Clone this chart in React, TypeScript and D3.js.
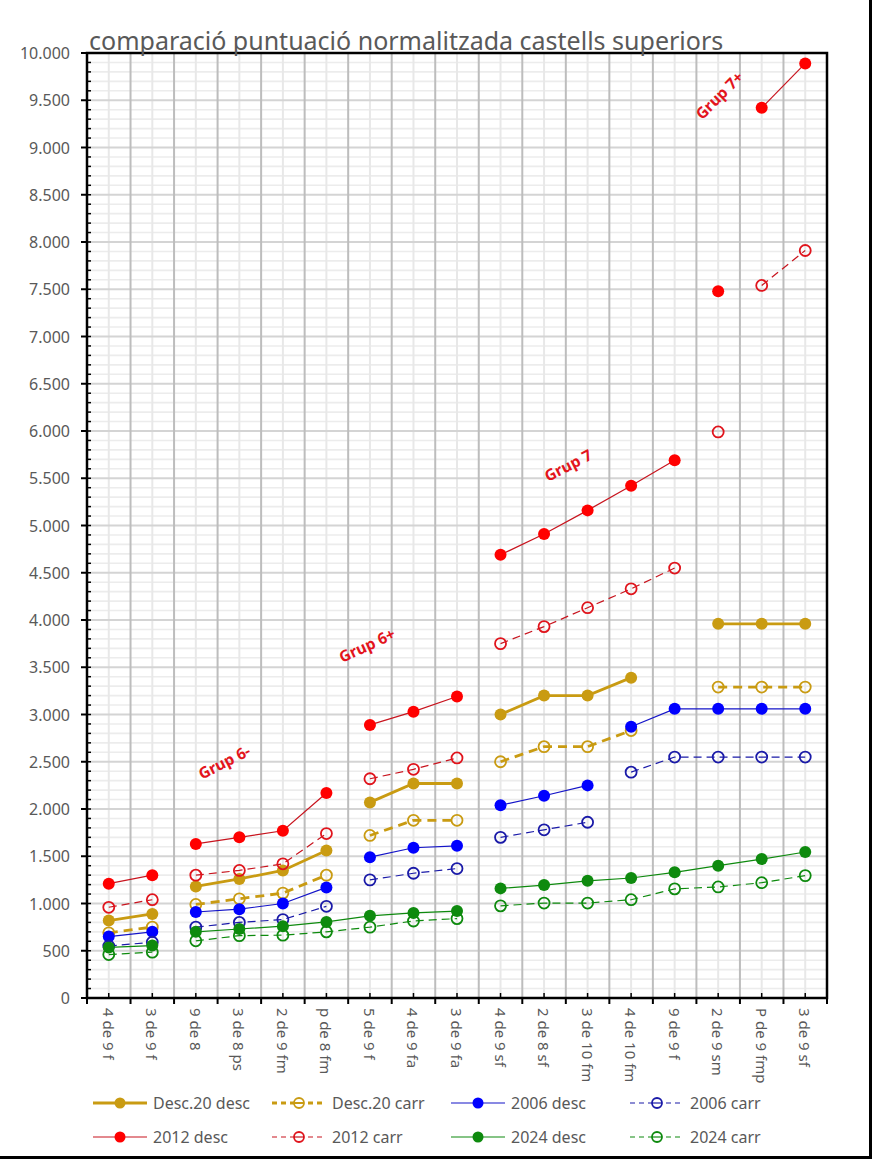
import { useEffect, useRef } from 'react';
import * as d3 from 'd3';

const WIDTH = 872;
const HEIGHT = 1159;
const PLOT = { left: 87, right: 827, top: 53, bottom: 998 };

const TITLE = 'comparació puntuació normalitzada castells superiors';

const CATEGORIES = [
  '4 de 9 f', '3 de 9 f', '9 de 8', '3 de 8 ps', '2 de 9 fm', 'p de 8 fm',
  '5 de 9 f', '4 de 9 fa', '3 de 9 fa', '4 de 9 sf', '2 de 8 sf', '3 de 10 fm',
  '4 de 10 fm', '9 de 9 f', '2 de 9 sm', 'P de 9 fmp', '3 de 9 sf',
];

const Y_TICKS = d3.range(0, 10001, 500);

const DESC20_DESC = [820, 890, 1180, 1260, 1350, 1560, 2070, 2270, 2270, 3000, 3200, 3200, 3390, null, 3960, 3960, 3960];
const DESC20_CARR = [690, 750, 990, 1050, 1110, 1300, 1720, 1880, 1880, 2500, 2660, 2660, 2830, null, 3290, 3290, 3290];
const Y2006_DESC = [650, 700, 910, 940, 1000, 1170, 1490, 1590, 1610, 2040, 2140, 2250, 2870, 3060, 3060, 3060, 3060];
const Y2006_CARR = [550, 590, 750, 800, 830, 970, 1250, 1320, 1370, 1700, 1780, 1860, 2390, 2550, 2550, 2550, 2550];
const Y2012_DESC = [1210, 1300, 1630, 1700, 1770, 2170, 2890, 3030, 3190, 4690, 4910, 5160, 5420, 5690, 7480, 9420, 9890];
const Y2012_CARR = [960, 1040, 1300, 1350, 1420, 1740, 2320, 2420, 2540, 3750, 3930, 4130, 4330, 4550, 5990, 7540, 7910];
const Y2024_DESC = [535, 555, 700, 730, 760, 805, 870, 900, 920, 1160, 1195, 1240, 1270, 1330, 1400, 1470, 1545];
const Y2024_CARR = [460, 485, 605, 660, 665, 700, 750, 815, 840, 975, 1005, 1005, 1040, 1155, 1175, 1220, 1295];

// category indexes where a series line starts again (not joined to the previous point)
const BREAKS_DESC20 = [2, 6, 9];
const BREAKS_2006 = [2, 6, 9, 12];
const BREAKS_2012 = [2, 6, 9, 14, 15];
const BREAKS_2024 = [2, 9];

const GROUP_LABELS = [
  { text: 'Grup 6-', at: 2.65, value: 2500, angle: -27 },
  { text: 'Grup 6+', at: 5.93, value: 3735, angle: -25 },
  { text: 'Grup 7', at: 10.55, value: 5640, angle: -27 },
  { text: 'Grup 7+', at: 14.02, value: 9555, angle: -45 },
];

const GOLD = '#c99b12';
const BLUE = '#0000ff';
const BLUE_DARK = '#1a1aa8';
const RED = '#ff0000';
const RED_DARK = '#c8141e';
const GREEN = '#0e8a0e';
const TEXT = '#595959';
const FONT = '"Noto Sans", "Open Sans", sans-serif';

interface Series {
  name: string;
  values: (number | null)[];
  breaks: number[];
  lineColor: string;
  markerColor: string;
  filled: boolean;
  width: number;
  dash: string | null;
}

const SERIES: Series[] = [
  { name: 'Desc.20 desc', values: DESC20_DESC, breaks: BREAKS_DESC20, lineColor: GOLD, markerColor: GOLD, filled: true, width: 2.8, dash: null },
  { name: 'Desc.20 carr', values: DESC20_CARR, breaks: BREAKS_DESC20, lineColor: GOLD, markerColor: GOLD, filled: false, width: 2.8, dash: '9,6' },
  { name: '2006 desc', values: Y2006_DESC, breaks: BREAKS_2006, lineColor: '#1414c8', markerColor: BLUE, filled: true, width: 1.2, dash: null },
  { name: '2006 carr', values: Y2006_CARR, breaks: BREAKS_2006, lineColor: BLUE_DARK, markerColor: BLUE_DARK, filled: false, width: 1.2, dash: '8,5' },
  { name: '2012 desc', values: Y2012_DESC, breaks: BREAKS_2012, lineColor: RED_DARK, markerColor: RED, filled: true, width: 1.2, dash: null },
  { name: '2012 carr', values: Y2012_CARR, breaks: BREAKS_2012, lineColor: RED_DARK, markerColor: '#e0141c', filled: false, width: 1.2, dash: '8,5' },
  { name: '2024 desc', values: Y2024_DESC, breaks: BREAKS_2024, lineColor: GREEN, markerColor: GREEN, filled: true, width: 1.2, dash: null },
  { name: '2024 carr', values: Y2024_CARR, breaks: BREAKS_2024, lineColor: GREEN, markerColor: GREEN, filled: false, width: 1.2, dash: '8,5' },
];

function segments(s: Series) {
  const out: { i: number; v: number }[][] = [];
  let cur: { i: number; v: number }[] = [];
  s.values.forEach((v, i) => {
    if (v == null || s.breaks.includes(i)) {
      if (cur.length) out.push(cur);
      cur = [];
    }
    if (v != null) cur.push({ i, v });
  });
  if (cur.length) out.push(cur);
  return out;
}

export default function App() {
  const svgRef = useRef<SVGSVGElement>(null);

  useEffect(() => {
    document.body.style.margin = '0';
    if (!svgRef.current) return;
    const svg = d3.select(svgRef.current);
    svg.selectAll('*').remove();

    const x = d3.scaleBand<number>()
      .domain(d3.range(CATEGORIES.length))
      .range([PLOT.left, PLOT.right])
      .paddingInner(0)
      .paddingOuter(0);
    const bw = x.bandwidth();
    const cx = (i: number) => (x(i) ?? 0) + bw / 2;
    const y = d3.scaleLinear().domain([0, 10000]).range([PLOT.bottom, PLOT.top]);
    const fmt = d3.formatLocale({ decimal: ',', thousands: '.', grouping: [3], currency: ['', '€'] }).format(',.0f');

    svg.append('rect').attr('width', WIDTH).attr('height', HEIGHT).attr('fill', '#fff');

    // grid
    const grid = svg.append('g');
    grid.selectAll('line.hmin')
      .data(d3.range(0, 10001, 100).filter(v => v % 500 !== 0))
      .join('line')
      .attr('x1', PLOT.left).attr('x2', PLOT.right)
      .attr('y1', d => y(d)).attr('y2', d => y(d))
      .attr('stroke', '#ececec').attr('stroke-width', 1.6);
    grid.selectAll('line.vmin')
      .data(d3.range(CATEGORIES.length))
      .join('line')
      .attr('x1', d => cx(d)).attr('x2', d => cx(d))
      .attr('y1', PLOT.top).attr('y2', PLOT.bottom)
      .attr('stroke', '#e8e8e8').attr('stroke-width', 2);
    grid.selectAll('line.hmaj')
      .data(Y_TICKS)
      .join('line')
      .attr('x1', PLOT.left).attr('x2', PLOT.right)
      .attr('y1', d => y(d)).attr('y2', d => y(d))
      .attr('stroke', '#d4d4d4').attr('stroke-width', 2);
    grid.selectAll('line.vmaj')
      .data(d3.range(1, CATEGORIES.length))
      .join('line')
      .attr('x1', d => x(d) ?? 0).attr('x2', d => x(d) ?? 0)
      .attr('y1', PLOT.top).attr('y2', PLOT.bottom)
      .attr('stroke', '#bdbdbd').attr('stroke-width', 2);

    // axes
    const axes = svg.append('g').attr('stroke', '#000');
    axes.selectAll('line.ymin')
      .data(d3.range(0, 10001, 100))
      .join('line')
      .attr('x1', PLOT.left).attr('x2', PLOT.left + 4)
      .attr('y1', d => y(d)).attr('y2', d => y(d))
      .attr('stroke-width', 1.5);
    axes.selectAll('line.ymaj')
      .data(Y_TICKS)
      .join('line')
      .attr('x1', PLOT.left - 6).attr('x2', PLOT.left)
      .attr('y1', d => y(d)).attr('y2', d => y(d))
      .attr('stroke-width', 2);
    axes.selectAll('line.xmaj')
      .data(d3.range(0, CATEGORIES.length + 1))
      .join('line')
      .attr('x1', d => PLOT.left + d * bw).attr('x2', d => PLOT.left + d * bw)
      .attr('y1', PLOT.bottom).attr('y2', PLOT.bottom + 6)
      .attr('stroke-width', 2);
    axes.selectAll('line.xmin')
      .data(d3.range(CATEGORIES.length))
      .join('line')
      .attr('x1', d => cx(d)).attr('x2', d => cx(d))
      .attr('y1', PLOT.bottom - 5).attr('y2', PLOT.bottom)
      .attr('stroke-width', 1.5);
    axes.append('rect')
      .attr('x', PLOT.left).attr('y', PLOT.top)
      .attr('width', PLOT.right - PLOT.left).attr('height', PLOT.bottom - PLOT.top)
      .attr('fill', 'none').attr('stroke-width', 2.5);

    // tick labels
    svg.append('g').selectAll('text')
      .data(Y_TICKS)
      .join('text')
      .attr('x', 70).attr('y', d => y(d))
      .attr('text-anchor', 'end').attr('dominant-baseline', 'central')
      .attr('font-family', FONT).attr('font-size', 16).attr('fill', TEXT)
      .text(d => fmt(d));
    svg.append('g').selectAll('text')
      .data(CATEGORIES)
      .join('text')
      .attr('transform', (_, i) => `translate(${cx(i)},${PLOT.bottom + 10}) rotate(90)`)
      .attr('text-anchor', 'start').attr('dominant-baseline', 'central')
      .attr('font-family', FONT).attr('font-size', 15).attr('fill', TEXT)
      .text(d => d);

    svg.append('text')
      .attr('x', 89).attr('y', 50)
      .attr('font-family', FONT).attr('font-size', 25).attr('fill', TEXT)
      .text(TITLE);

    // series
    const line = d3.line<{ i: number; v: number }>().x(d => cx(d.i)).y(d => y(d.v));
    SERIES.forEach(s => {
      const g = svg.append('g');
      g.selectAll('path')
        .data(segments(s))
        .join('path')
        .attr('d', d => line(d))
        .attr('fill', 'none')
        .attr('stroke', s.lineColor)
        .attr('stroke-width', s.width)
        .attr('stroke-dasharray', s.dash);
      g.selectAll('circle')
        .data(s.values.map((v, i) => ({ i, v })).filter(d => d.v != null) as { i: number; v: number }[])
        .join('circle')
        .attr('cx', d => cx(d.i)).attr('cy', d => y(d.v))
        .attr('r', s.filled ? 6 : 5.5)
        .attr('fill', s.filled ? s.markerColor : 'none')
        .attr('stroke', s.markerColor)
        .attr('stroke-width', s.filled ? 0 : 1.8);
    });

    // group labels
    svg.append('g').selectAll('text')
      .data(GROUP_LABELS)
      .join('text')
      .attr('transform', d => `translate(${PLOT.left + (d.at + 0.5) * bw},${y(d.value)}) rotate(${d.angle})`)
      .attr('text-anchor', 'middle').attr('dominant-baseline', 'central')
      .attr('font-family', FONT).attr('font-weight', 700).attr('font-size', 15.5)
      .attr('fill', '#e3141c')
      .text(d => d.text);

    // legend
    const legend = svg.append('g');
    SERIES.forEach((s, k) => {
      const lx = 93 + (k % 4) * 179;
      const ly = 1103 + Math.floor(k / 4) * 34;
      const item = legend.append('g');
      item.append('line')
        .attr('x1', lx).attr('x2', lx + 54).attr('y1', ly).attr('y2', ly)
        .attr('stroke', s.lineColor).attr('stroke-width', s.width)
        .attr('stroke-dasharray', s.dash ? '5,4' : null);
      item.append('circle')
        .attr('cx', lx + 27).attr('cy', ly)
        .attr('r', s.filled ? 5.5 : 5)
        .attr('fill', s.filled ? s.markerColor : '#fff')
        .attr('stroke', s.markerColor)
        .attr('stroke-width', s.filled ? 0 : 1.8);
      if (!s.filled) {
        item.append('line')
          .attr('x1', lx + 22).attr('x2', lx + 32).attr('y1', ly).attr('y2', ly)
          .attr('stroke', s.lineColor).attr('stroke-width', s.width > 2 ? 2 : 1.2);
      }
      item.append('text')
        .attr('x', lx + 60).attr('y', ly)
        .attr('dominant-baseline', 'central')
        .attr('font-family', FONT).attr('font-size', 16).attr('fill', TEXT)
        .text(s.name);
    });

    // outer frame (right and bottom edges)
    svg.append('line').attr('x1', WIDTH - 1.5).attr('x2', WIDTH - 1.5).attr('y1', 0).attr('y2', HEIGHT)
      .attr('stroke', '#000').attr('stroke-width', 3);
    svg.append('line').attr('x1', 0).attr('x2', WIDTH).attr('y1', HEIGHT - 1.5).attr('y2', HEIGHT - 1.5)
      .attr('stroke', '#000').attr('stroke-width', 3);
  }, []);

  return <svg ref={svgRef} width={WIDTH} height={HEIGHT} style={{ display: 'block' }} />;
}
